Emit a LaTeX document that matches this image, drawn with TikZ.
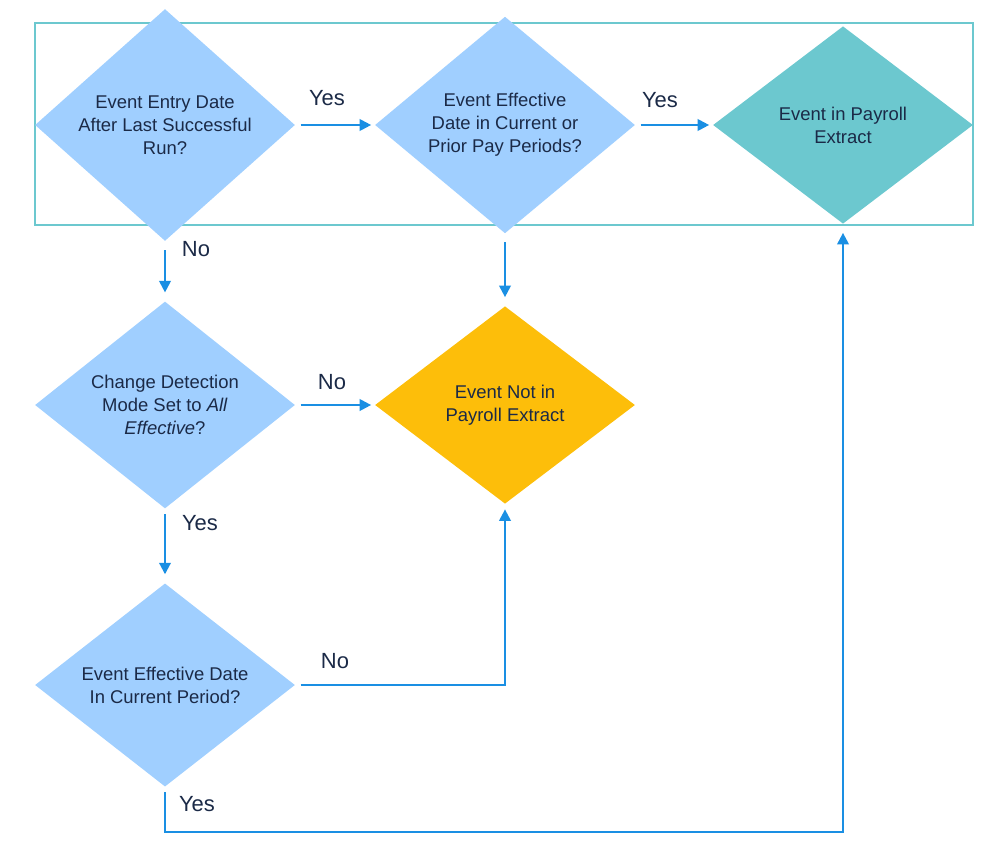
\documentclass[tikz,border=0pt]{standalone}
\usepackage{fontspec}
\setmainfont{Liberation Sans}
\usetikzlibrary{shapes.geometric,arrows.meta}
\definecolor{dblue}{HTML}{A0CFFF}
\definecolor{teal}{HTML}{6CC8CF}
\definecolor{yel}{HTML}{FDBE0A}
\definecolor{arr}{HTML}{1A8FE3}
\definecolor{txt}{HTML}{1B2A47}
\definecolor{frame}{HTML}{6CC8CF}
\begin{document}
\begin{tikzpicture}[x=0.02cm,y=-0.02cm,
  dia/.style={diamond,minimum width=5.2cm,minimum height=3.95cm,inner sep=0pt,align=center,text=txt,font=\fontsize{10.5}{13}\selectfont},
  conn/.style={arr,line width=1.2pt,-{Triangle[length=2.3mm,width=2.3mm]}},
  lab/.style={text=txt,font=\fontsize{12.5}{14}\selectfont}]
\useasboundingbox (0,0) rectangle (1000,859);
\draw[frame,line width=1.6pt] (35,23) rectangle (973,225);
\node[dia,fill=dblue] (d1) at (165,125) {Event Entry Date\\After Last Successful\\Run?};
\node[dia,fill=dblue] (d2) at (505,125) {Event Effective\\Date in Current or\\Prior Pay Periods?};
\node[dia,fill=teal] (d3) at (843,125) {Event in Payroll\\Extract};
\node[dia,fill=dblue] (d4) at (165,405) {Change Detection\\Mode Set to \textit{All}\\\textit{Effective}?};
\node[dia,fill=yel] (d5) at (505,405) {Event Not in\\Payroll Extract};
\node[dia,fill=dblue] (d6) at (165,685) {Event Effective Date\\In Current Period?};
\coordinate (c1) at (505,685);
\coordinate (c2) at (165,832);
\coordinate (c3) at (843,832);
\draw[conn] ([xshift=3pt]d1.east) -- ([xshift=-2pt]d2.west);
\draw[conn] ([xshift=3pt]d2.east) -- ([xshift=-2pt]d3.west);
\draw[conn] ([yshift=-5pt]d1.south) -- ([yshift=5pt]d4.north);
\draw[conn] ([yshift=-5pt]d2.south) -- ([yshift=5pt]d5.north);
\draw[conn] ([xshift=3pt]d4.east) -- ([xshift=-2pt]d5.west);
\draw[conn] ([yshift=-3pt]d4.south) -- ([yshift=5pt]d6.north);
\draw[conn] ([xshift=3pt]d6.east) -- (c1) -- ([yshift=-3pt]d5.south);
\draw[conn] ([yshift=-3pt]d6.south) -- (c2) -- (c3) -- ([yshift=-5pt]d3.south);
\node[lab] (l1) at (327,98) {Yes};
\node[lab] (l2) at (660,100) {Yes};
\node[lab] (l3) at (196,249) {No};
\node[lab] (l4) at (332,382) {No};
\node[lab] (l5) at (200,523) {Yes};
\node[lab] (l6) at (335,661) {No};
\node[lab] (l7) at (197,804) {Yes};
\end{tikzpicture}
\end{document}
